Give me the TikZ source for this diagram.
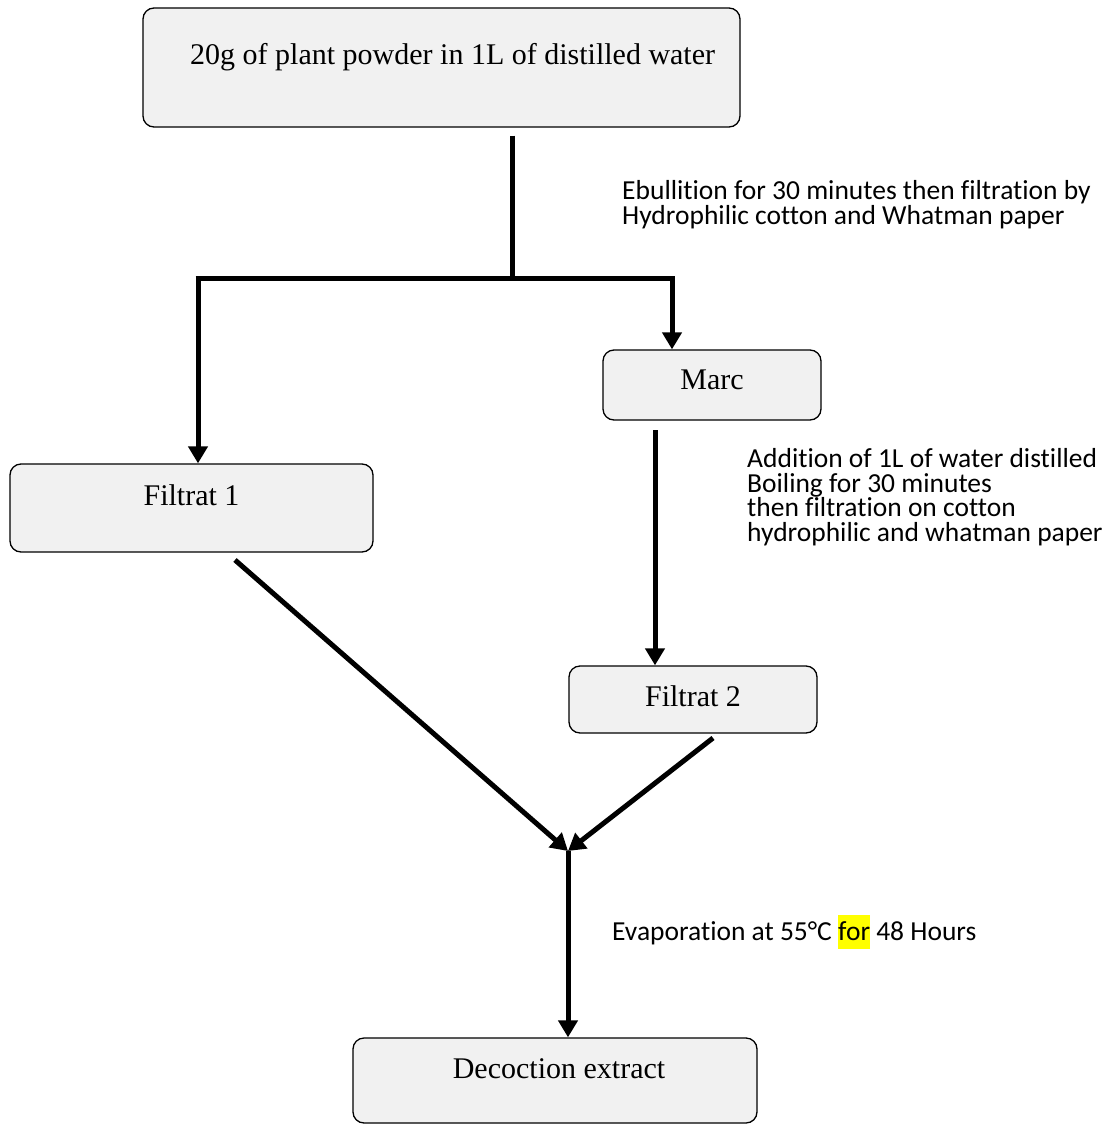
\documentclass[tikz,border=0pt]{standalone}
\usepackage{fontspec}
\setmainfont{Liberation Serif}
\newfontfamily\notefont[Ligatures=NoCommon]{Carlito}
\usetikzlibrary{arrows.meta}
\definecolor{boxgray}{HTML}{F1F1F1}
\definecolor{marker}{HTML}{FFFF00}

\begin{document}
\begin{tikzpicture}
  [x=1pt,y=-1pt,
   box/.style={draw,rounded corners=11pt,fill=boxgray,line width=1.3pt,inner sep=0pt},
   boxtext/.style={font=\fontsize{30}{36}\selectfont,inner sep=0pt},
   note/.style={font=\notefont\fontsize{27.5}{24.5}\selectfont,align=left,inner sep=0pt,anchor=base west},
   flow/.style={line width=5pt},
   arr/.style={flow,-{Triangle[length=17pt,width=19pt]}}]
  \useasboundingbox (0,0) rectangle (1109,1124);

  % boxes
  \node[box,minimum width=597pt,minimum height=119pt] (src) at (441.5,67.5) {};
  \node[box,minimum width=218pt,minimum height=70pt] (marc) at (712,385) {};
  \node[box,minimum width=363pt,minimum height=88pt] (fil1) at (191.5,508) {};
  \node[box,minimum width=248pt,minimum height=67pt] (fil2) at (693,699.5) {};
  \node[box,minimum width=404pt,minimum height=85pt] (dec) at (555,1080.5) {};

  \node[boxtext,anchor=base west] (srct) at (190,65) {20g of plant powder in 1L of distilled water};
  \node[boxtext,anchor=base] (marct) at (712,389) {Marc};
  \node[boxtext,anchor=base] (fil1t) at (191.5,505) {Filtrat 1};
  \node[boxtext,anchor=base] (fil2t) at (693,706) {Filtrat 2};
  \node[boxtext,anchor=base] (dect) at (559,1078) {Decoction extract};

  % notes (anchored at the last line)
  \node[note] (boil1) at (622,224) {Ebullition for 30 minutes then filtration by\\Hydrophilic cotton and Whatman paper};
  \node[note] (boil2) at (747,541) {Addition of 1L of water distilled\\Boiling for 30 minutes\\then filtration on cotton\\hydrophilic and whatman paper};
  \node[note] (evap) at (612,940) {Evaporation at 55°C {\setlength{\fboxsep}{0pt}\colorbox{marker}{\rule[-9pt]{0pt}{34pt}for}} 48 Hours};

  % connectors
  \coordinate (split) at (512,278);
  \coordinate (jl) at (198,278);
  \coordinate (jr) at (672,278);
  \coordinate (m2) at (655,430);
  \coordinate (d1) at (235,560);
  \coordinate (d2) at (713,738);
  \coordinate (mg) at (568,851);

  \draw[flow] (src.south -| split) ++(0,8) -- (split);
  \draw[flow] ([xshift=-2.5pt]jl) -- ([xshift=2.5pt]jr);
  \draw[arr] (jl) -- (fil1.north -| jl);
  \draw[arr] (jr) -- (marc.north -| jr);
  \draw[arr] (m2) -- (fil2.north -| m2);
  \draw[arr] (d1) -- (mg);
  \draw[arr] (d2) -- (mg);
  \draw[arr] (mg) -- (dec.north -| mg);

\end{tikzpicture}
\end{document}
